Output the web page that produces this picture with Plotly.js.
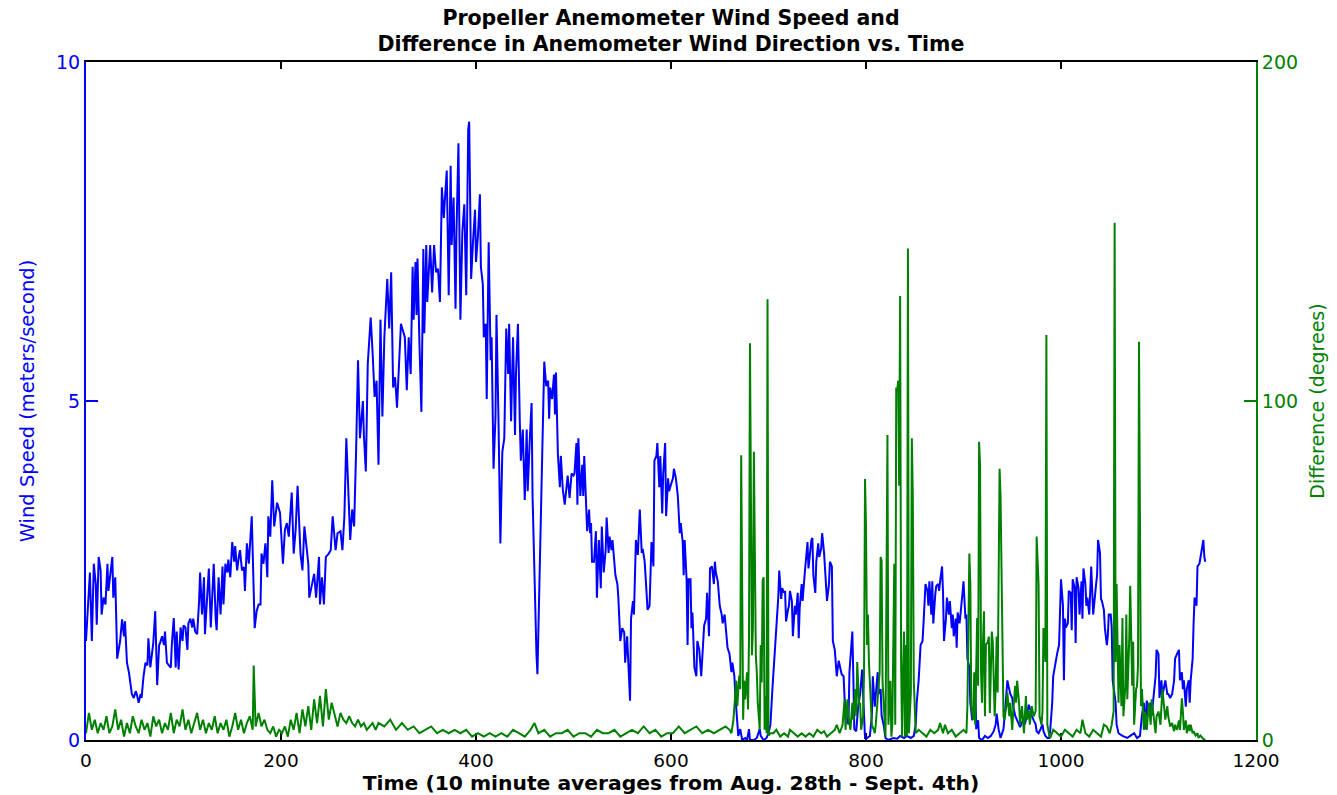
<!DOCTYPE html>
<html>
<head>
<meta charset="utf-8">
<script src="https://cdn.plot.ly/plotly-3.0.1.min.js"></script>
<style>
html,body{margin:0;padding:0;background:#ffffff;}
#chart{width:1337px;height:795px;}
</style>
</head>
<body>
<div id="chart"></div>
<script>
// ---- Data ----
// Wind speed (m/s) vs time index (10-minute averages)
const speedTime = [
0,3,4,6,8,10,11,13,15,16,
18,20,22,23,25,27,28,30,32,34,
35,37,39,40,42,44,45,47,49,51,
52,54,56,57,59,61,63,64,66,68,
69,71,73,75,76,78,80,81,83,85,
87,88,90,92,93,95,97,99,100,102,
104,105,107,109,110,112,114,116,117,119,
121,122,124,126,128,129,131,133,134,136,
138,140,141,143,145,146,148,150,152,153,
155,157,158,160,162,163,165,167,170,173,
175,177,179,180,182,184,186,187,189,191,
193,196,199,202,204,206,208,211,213,215,
217,220,222,224,226,228,229,232,234,236,
239,240,242,244,246,249,251,253,256,258,
261,263,265,267,269,271,273,275,277,279,
281,284,285,287,289,292,294,296,298,300,
302,304,306,308,309,311,313,315,317,319,
321,323,325,327,329,331,333,335,336,338,
339,340,342,344,346,347,349,350,353,355,
357,359,361,363,365,367,368,370,372,374,
375,377,379,380,382,384,386,388,390,392,
393,395,397,399,400,402,404,405,407,408,
410,411,413,415,416,418,420,421,423,425,
427,429,431,433,434,436,438,440,441,443,
445,446,448,450,452,453,455,457,458,460,
462,463,465,467,469,470,472,474,475,476,
478,480,481,482,484,486,487,489,491,493,
494,496,498,500,501,503,504,505,507,509,
510,511,513,514,516,517,518,519,521,523,
524,526,528,529,531,533,534,536,537,539,
540,542,543,545,546,548,550,552,553,555,
557,558,559,561,562,564,566,568,570,571,
573,575,576,578,580,582,583,585,586,588,
589,591,592,594,595,597,598,600,602,603,
605,607,609,610,612,613,614,616,617,618,
620,621,622,624,626,627,629,631,632,634,
636,637,639,640,642,644,645,646,648,650,
652,653,655,657,658,660,662,663,665,666,
668,669,671,673,676,678,680,681,685,688,
691,692,695,698,700,702,704,706,708,710,
711,713,714,716,717,718,720,721,722,724,
725,727,728,730,731,732,734,735,737,738,
740,741,742,744,745,746,748,749,751,752,
754,755,757,758,760,762,763,765,766,768,
769,770,772,774,775,777,778,780,782,783,
785,786,787,788,790,792,794,795,796,798,
799,801,804,806,807,809,811,812,813,815,
816,818,820,823,828,832,835,839,842,846,
849,851,852,854,856,858,859,861,863,864,
865,867,868,869,871,872,874,875,876,878,
879,880,882,883,885,886,888,889,890,892,
893,894,896,897,899,900,902,903,904,906,
907,909,911,912,913,915,916,919,922,925,
928,931,933,934,936,938,941,943,945,946,
948,950,951,953,955,957,958,960,962,963,
965,967,969,970,972,974,975,977,979,981,
982,984,986,988,989,991,992,994,996,998,
999,1000,1002,1003,1004,1005,1007,1008,1010,1011,
1012,1014,1015,1016,1018,1019,1021,1022,1023,1025,
1026,1027,1029,1030,1031,1033,1034,1036,1037,1038,
1040,1041,1042,1044,1045,1047,1048,1049,1051,1052,
1053,1055,1056,1057,1059,1063,1068,1071,1075,1078,
1081,1083,1085,1086,1088,1090,1092,1093,1095,1097,
1098,1100,1101,1103,1104,1105,1107,1109,1110,1112,
1114,1116,1117,1119,1121,1122,1124,1125,1126,1128,
1129,1131,1132,1133,1135,1136,1137,1139,1140,1142,
1143,1144,1146,1147,1148
];
const windSpeed = [
1.46,2.3,2.47,1.46,2.6,2.3,1.7,2.7,2.5,1.85,
2.1,2.0,2.6,2.2,2.45,2.7,2.1,2.4,1.2,1.4,
1.46,1.78,1.53,1.75,1.14,1.0,0.88,0.68,0.62,0.72,
0.68,0.55,0.68,0.62,0.94,1.14,1.1,1.5,1.07,1.33,
1.43,1.9,0.81,1.4,1.43,1.53,1.4,1.6,1.14,1.1,
1.07,1.4,1.8,1.07,1.6,1.04,1.66,1.46,1.69,1.66,
1.33,1.72,1.79,1.66,1.79,1.6,1.56,2.05,2.47,1.85,
2.4,1.56,2.05,2.53,1.66,2.0,2.6,1.79,1.62,2.4,
1.85,2.56,2.0,2.6,2.47,2.66,2.4,2.92,2.63,2.86,
2.5,2.73,2.8,2.5,2.55,2.2,2.9,2.6,3.3,1.65,
1.9,2.0,2.0,2.75,2.6,2.9,2.4,3.3,3.0,3.83,
3.15,3.5,3.35,2.6,3.1,3.2,3.0,3.65,2.75,3.1,
3.75,2.75,2.5,3.15,2.9,2.6,2.1,2.3,2.45,2.1,
2.7,2.0,2.4,2.0,2.7,2.75,2.8,3.3,2.8,3.05,
3.08,2.8,3.3,4.45,3.6,2.95,3.4,3.15,4.25,5.6,
4.45,5.0,4.5,3.96,5.55,6.23,5.7,5.06,5.3,4.06,
6.2,4.77,5.94,6.4,6.8,6.07,6.9,5.2,5.35,4.9,
5.55,6.14,6.04,5.94,5.16,5.94,5.4,6.98,6.2,7.05,
6.27,7.1,5.84,4.84,7.24,6.0,7.3,6.46,7.3,6.6,
7.3,6.9,6.95,6.46,8.15,7.7,7.95,8.4,6.56,8.47,
7.3,8.0,6.36,7.5,8.8,6.2,7.5,7.9,6.56,9.0,
9.12,6.8,7.37,7.82,7.05,7.44,8.05,6.98,6.72,5.94,
6.14,5.03,7.34,5.6,5.94,4.0,4.77,6.27,4.77,2.9,
4.25,4.45,6.07,5.4,6.14,4.7,5.94,4.5,5.4,6.14,
4.64,4.12,4.58,3.54,4.58,3.67,4.38,4.97,3.6,2.2,
1.27,0.97,2.17,3.54,4.7,5.58,5.22,5.3,4.74,5.2,
5.03,5.39,4.8,5.42,4.22,3.73,4.19,3.7,3.47,3.8,
3.9,3.57,3.93,3.9,3.93,4.38,3.47,4.45,3.6,4.06,
3.6,4.19,3.55,3.08,3.4,3.05,3.2,2.63,2.63,3.08,
2.1,2.95,2.24,3.15,2.47,2.8,3.28,2.76,3.0,2.8,
2.95,2.56,2.43,2.3,2.1,1.46,1.65,1.59,1.14,1.53,
1.0,0.58,1.79,2.05,1.85,2.95,2.73,3.4,2.76,2.82,
2.63,2.05,1.92,1.98,2.92,2.56,4.12,4.19,4.38,3.73,
4.19,3.34,3.93,4.38,3.3,3.86,3.67,3.77,3.86,4.0,
3.86,3.6,3.05,3.2,2.92,2.43,2.95,2.37,1.4,2.37,
2.37,1.65,1.88,1.07,0.94,1.46,1.33,0.94,1.27,1.69,
1.79,2.17,1.53,2.53,2.56,2.3,2.63,2.47,2.34,1.98,
1.85,1.72,1.85,1.43,1.36,1.27,1.0,1.14,0.94,0.65,
0.29,0.06,0.16,0,0.03,0,0.16,0,0,0.03,
0.16,0.06,0,0.03,0.1,0.23,0.75,1.2,1.65,2.1,
2.5,2.08,2.24,2.17,2.2,1.75,1.92,1.98,2.2,2.05,
1.53,1.98,1.85,2.17,1.5,1.95,2.3,2.05,2.43,2.56,
2.92,2.53,2.7,2.95,2.98,2.43,2.17,2.63,2.9,2.7,
2.82,3.05,2.76,2.5,2.05,2.3,2.63,2.56,1.46,1.33,
1.07,0.94,1.17,1.0,0.97,0.94,0.62,0.36,0.23,1.0,
1.33,1.6,0.94,0.16,0.13,0.5,0.68,0.94,1.04,0.36,
0.03,0.03,0.06,0.36,0.94,0.49,0.84,1.0,0.68,0.75,
0.36,0.23,0.03,0,0.03,0.02,0.06,0.03,0.06,0.03,
0.06,0.23,0.55,0.88,1.4,1.46,1.72,2.3,2.2,1.98,
2.34,1.85,2.34,1.72,2.14,2.27,2.3,2.2,2.34,2.56,
2.17,1.46,1.79,2.1,1.85,2.05,1.65,1.85,1.53,1.79,
1.36,1.88,1.72,1.85,2.17,2.34,1.79,1.85,1.2,1.07,
0.55,0.29,0.49,0.88,0.16,0.29,0.03,0,0.06,0.03,
0.06,0.13,0.23,0.39,0.16,0.03,0.16,0.49,0.88,0.81,
0.68,0.62,0.49,0.36,0.29,0.23,0.19,0.26,0.32,0.23,
0.36,0.52,0.42,0.36,0.29,0.23,0.13,0.1,0.16,0.23,
0.13,0.06,0.03,0.03,0.16,0.55,0.94,1.14,1.27,1.4,
1.85,2.37,1.98,0.88,1.79,1.66,1.72,2.2,2.17,1.62,
2.37,2.24,1.43,2.4,2.24,1.85,2.34,1.79,2.53,2.3,
1.98,2.1,1.85,2.27,2.56,1.85,2.05,2.3,2.43,2.95,
2.76,2.08,2.05,1.92,1.65,1.4,1.53,1.85,1.85,1.66,
0.88,0.68,0.55,0.23,0.1,0.06,0.03,0.06,0.1,0.03,
0.06,0.36,0.55,0.16,0.58,0.36,0.55,0.36,0.62,0.94,
1.33,1.27,0.62,0.88,0.65,0.75,0.88,0.68,0.68,0.62,
0.68,0.88,1.2,1.27,1.33,0.88,1.0,0.75,0.88,0.49,
0.75,0.88,0.55,0.88,1.2,1.72,2.1,1.98,2.56,2.6,
2.7,2.76,2.95,2.7,2.63
];

// Difference in anemometer wind direction (degrees) vs time index
const diffTime = [
0,3,6,9,12,15,18,21,24,27,
30,33,36,39,42,45,48,51,54,57,
60,63,66,69,72,75,78,81,84,87,
90,93,96,99,102,105,108,111,114,117,
120,123,126,129,132,135,138,141,144,147,
150,153,156,159,162,165,168,171,172,174,
177,180,183,186,189,192,195,198,201,204,
207,210,213,216,219,222,225,228,231,234,
237,240,243,246,249,252,255,258,261,264,
267,270,273,276,279,282,285,288,291,294,
297,300,306,312,318,324,330,336,342,348,
354,360,366,372,378,384,390,396,402,408,
414,420,426,432,438,444,450,456,460,464,
470,476,482,488,494,500,506,512,518,524,
530,536,542,548,554,560,566,572,578,584,
590,596,602,608,614,620,626,632,638,644,
650,656,660,662,664,667,668,670,671,672,
674,675,676,678,679,680,681,683,684,685,
687,688,689,691,692,693,694,695,696,697,
698,699,700,702,705,708,712,716,720,722,
726,730,734,738,742,746,750,754,757,760,
764,768,770,773,776,778,779,781,782,784,
786,787,789,790,791,793,794,795,797,798,
799,800,801,802,803,805,806,808,809,810,
812,814,815,816,817,819,820,822,823,825,
826,827,829,830,831,832,833,834,835,836,
837,838,839,840,841,842,843,844,846,847,
848,849,850,851,854,858,862,866,870,874,
876,879,881,884,888,892,896,900,903,904,
906,907,908,910,911,912,914,915,916,917,
918,919,920,921,922,923,925,926,927,929,
930,932,933,934,935,937,938,940,941,942,
944,945,947,948,950,951,953,954,955,957,
958,960,961,962,964,965,967,968,970,972,
974,975,977,978,980,981,982,984,985,986,
988,989,992,996,1000,1004,1008,1012,1016,1020,
1022,1025,1029,1033,1037,1041,1044,1047,1050,1052,
1054,1055,1056,1057,1059,1060,1062,1063,1064,1066,
1067,1068,1070,1071,1073,1074,1075,1077,1078,1079,
1080,1082,1083,1085,1086,1088,1090,1092,1093,1095,
1097,1098,1100,1102,1104,1105,1107,1109,1110,1112,
1114,1116,1117,1119,1121,1122,1124,1125,1126,1128,
1129,1131,1132,1133,1135,1136,1138,1140,1141,1143,
1145,1146,1148
];
const dirDifference = [
2,8,3,6,2,5,3,7,2,4,
9,3,6,1,5,2,7,4,2,6,
3,5,1,7,4,6,2,5,3,8,
2,6,4,9,3,6,2,5,8,3,
6,2,5,3,7,2,5,3,6,1,
4,8,3,6,2,5,7,3,22,4,
8,4,6,3,2,4,1,3,2,4,
1,6,3,8,2,9,4,10,3,12,
5,13,4,15,6,11,7,4,8,6,
5,7,5,4,6,4,5,3,4,5,
3,5,4,6,3,5,3,4,2,3,
4,2,3,2,3,2,3,1,2,1,
2,1,2,1,3,2,1,3,5,2,
3,1,2,2,3,1,2,2,1,3,
2,2,3,1,2,3,2,4,2,3,
1,2,2,4,2,3,4,2,3,2,
3,4,3,2,6,17.5,10,19,15,84,
6,17.5,12,20,9,30,117,25,33,85,
25,20,11,3,28,17,47,48,3,13,
2,130,1.3,2,2,3,1,2,1,3,
2,1,2,1,2,1,3,2,2.6,1,
2,3,4.5,2,4.5,12,3,12,7,3,
11,6,15,7,23,10,11,3,7,20,
77,63,28,37,23,7,4.5,3,2,4.5,
11,20,54,53,17,4.5,1,90,4.5,17.5,
1,4.5,52,4.5,104,103,106,75,131,23,
1,20,32,1,28,1,145,2,14,89,
72,17.5,6,2,3,2,1,3,2,3,
5,2,4.5,2,3,1,2,3,2,10,
55,46,10,6,20,4.5,36,16,88,81,
20,11,29,38,7,28,29,30.5,8,32,
29,7,16,30.5,14,80,72,15,7,6,
10,14,7,11,3,8.5,16,11,17.5,11,
4.5,10,7,2,13,6,8.5,4.5,10,7,
8.5,60,46,7,4.5,8.5,33,23,119.5,4.5,
1.3,0.6,3,2,1,3,2,1,3,2,
6,2,1,3,2,1,4.5,3.9,2,4.5,
8.5,152.6,23,46,11,28,10,36,7,16,
37,12,30,45.5,16,29,4.5,15,16,22,
117.5,10,15,3,8.4,3,11,4.5,12,6.5,
2,7,8.4,4.5,15,12,6,10,7,4,
5,2.6,4.5,3,5.8,3,12.3,8.4,3,5.8,
2,4.5,2.6,4.5,2,2.6,1.3,2,0.6,1.3,
0.4,0.3,0
];

// Axis ticks and labels
const timeTicks = [0, 200, 400, 600, 800, 1000, 1200];
const speedTicks = [0, 5, 10];
const diffTicks = [0, 100, 200];

const titleLines = ['Propeller Anemometer Wind Speed and', 'Difference in Anemometer Wind Direction vs. Time'];
const xTitle = 'Time (10 minute averages from Aug. 28th - Sept. 4th)';
const yTitle = 'Wind Speed (meters/second)';
const y2Title = 'Difference (degrees)';

// ---- Styling ----
const BLUE = '#0000ff';
const GREEN = '#008000';
const FONT = 'DejaVu Sans, Liberation Sans, Arial, sans-serif';

const traces = [
  {
    x: speedTime, y: windSpeed, type: 'scatter', mode: 'lines',
    line: {color: BLUE, width: 2}, yaxis: 'y', name: 'Wind Speed', hoverinfo: 'x+y'
  },
  {
    x: diffTime, y: dirDifference, type: 'scatter', mode: 'lines',
    line: {color: GREEN, width: 2}, yaxis: 'y2', name: 'Difference', hoverinfo: 'x+y'
  }
];

const layout = {
  width: 1337, height: 795,
  margin: {l: 86, r: 81, t: 62, b: 55, pad: 0},
  paper_bgcolor: '#ffffff', plot_bgcolor: '#ffffff',
  showlegend: false,
  font: {family: FONT, size: 19, color: '#000000'},
  title: {
    text: titleLines.map(s => '<b>' + s + '</b>').join('<br>'),
    font: {family: FONT, size: 20.5, color: '#000000'},
    x: 0.5, xref: 'paper', xanchor: 'center',
    y: 0.969, yref: 'container', yanchor: 'top'
  },
  xaxis: {
    range: [0, 1200], tickvals: timeTicks, ticktext: timeTicks.map(String),
    ticks: 'inside', ticklen: 7, tickwidth: 1.5, tickcolor: '#000000',
    showline: true, linecolor: '#000000', linewidth: 2, mirror: 'ticks',
    showgrid: false, zeroline: false, layer: 'below traces',
    tickfont: {family: FONT, size: 18.5, color: '#000000'},
    ticklabelstandoff: 3,
    title: {text: '<b>' + xTitle + '</b>', font: {family: FONT, size: 20.3, color: '#000000'}, standoff: 5},
    automargin: false, fixedrange: true
  },
  yaxis: {
    range: [0, 10], tickvals: speedTicks, ticktext: speedTicks.map(String),
    ticks: 'inside', ticklen: 12, tickwidth: 2, tickcolor: BLUE,
    showline: true, linecolor: BLUE, linewidth: 2,
    showgrid: false, zeroline: false, layer: 'below traces',
    tickfont: {family: FONT, size: 19, color: BLUE},
    title: {text: yTitle, font: {family: FONT, size: 19.5, color: BLUE}, standoff: 16},
    automargin: false, fixedrange: true
  },
  yaxis2: {
    range: [0, 200], overlaying: 'y', side: 'right',
    tickvals: diffTicks, ticktext: diffTicks.map(String),
    ticks: 'inside', ticklen: 12, tickwidth: 2, tickcolor: GREEN,
    showline: true, linecolor: GREEN, linewidth: 2,
    showgrid: false, zeroline: false,
    tickfont: {family: FONT, size: 19, color: GREEN},
    title: {text: y2Title, font: {family: FONT, size: 19, color: GREEN}, standoff: 14},
    automargin: false, fixedrange: true
  }
};

Plotly.newPlot('chart', traces, layout, {displayModeBar: false, staticPlot: true});
</script>
</body>
</html>
